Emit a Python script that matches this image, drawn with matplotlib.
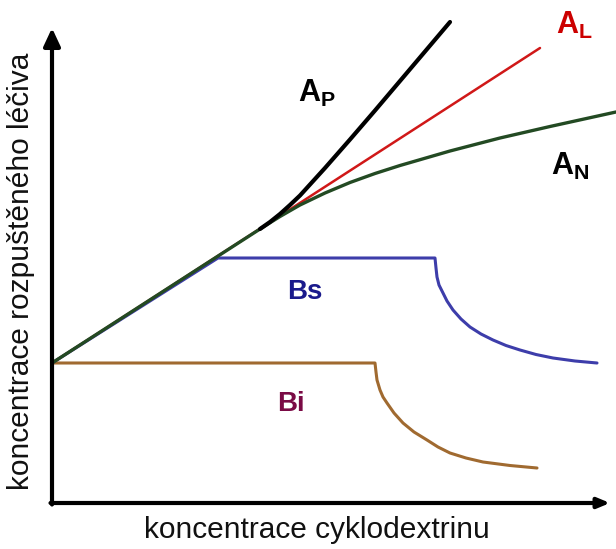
import matplotlib
matplotlib.use("Agg")
import matplotlib.pyplot as plt

plt.rcParams['font.family'] = ['Liberation Sans', 'DejaVu Sans']
plt.rcParams['mathtext.fontset'] = 'custom'
plt.rcParams['mathtext.rm'] = 'Liberation Sans:bold'
plt.rcParams['mathtext.bf'] = 'Liberation Sans:bold'
plt.rcParams['mathtext.it'] = 'Liberation Sans:bold'

# ---- data (schematic phase-solubility diagram) ----
al_x = [0.0, 9.76]
al_y = [2.8, 9.1]

ap_x = [4.16, 4.36, 4.56, 4.76, 4.96, 5.46, 5.96, 6.46, 6.96, 7.46, 7.96]
ap_y = [5.48, 5.62, 5.78, 5.96, 6.15, 6.70, 7.27, 7.85, 8.44, 9.03, 9.62]

an_x = [0.0, 4.16, 4.56, 4.96, 5.46, 5.96, 6.46, 6.96, 7.96, 8.96, 9.96, 11.28]
an_y = [2.8, 5.48, 5.73, 5.96, 6.20, 6.41, 6.59, 6.75, 7.04, 7.30, 7.53, 7.82]

bs_x = [0.0, 3.32, 7.66, 7.68, 7.70, 7.74, 7.82, 7.90, 8.02, 8.18, 8.36, 8.58,
        8.82, 9.08, 9.36, 9.68, 10.02, 10.46, 10.90]
bs_y = [2.8, 4.90, 4.90, 4.70, 4.52, 4.36, 4.20, 4.04, 3.86, 3.68, 3.52, 3.38,
        3.26, 3.15, 3.06, 2.97, 2.90, 2.84, 2.80]

bi_x = [0.0, 6.46, 6.48, 6.50, 6.56, 6.62, 6.70, 6.84, 7.02, 7.24, 7.50, 7.72,
        7.96, 8.28, 8.62, 9.16, 9.70]
bi_y = [2.8, 2.80, 2.62, 2.46, 2.26, 2.12, 2.00, 1.80, 1.60, 1.42, 1.26, 1.12,
        1.00, 0.90, 0.82, 0.75, 0.70]

xlabel = "koncentrace cyklodextrinu"
ylabel = "koncentrace rozpuštěného léčiva"

fig = plt.figure(figsize=(6.16, 5.49), dpi=100)
ax = fig.add_axes([0, 0, 1, 1])
ax.set_xlim(-1.04, 11.28)
ax.set_ylim(-0.92, 10.06)
ax.axis('off')

ax.plot(bi_x, bi_y, color='#a06a30', lw=2.2, solid_capstyle='round', solid_joinstyle='round')
ax.plot(bs_x, bs_y, color='#3d3daa', lw=2.2, solid_capstyle='round', solid_joinstyle='round')
ax.plot(al_x, al_y, color='#d01818', lw=1.8, solid_capstyle='round')
ax.plot(an_x, an_y, color='#234a23', lw=2.4, solid_capstyle='round', solid_joinstyle='round')
ax.plot(ap_x, ap_y, color='black', lw=3.0, solid_capstyle='round', solid_joinstyle='round')

# axes with arrows
ax.annotate('', xy=(0, 9.5), xytext=(0, -0.03),
            arrowprops=dict(arrowstyle='-|>,head_length=0.9,head_width=0.42',
                            lw=3.0, color='black', shrinkA=0, shrinkB=0,
                            mutation_scale=12))
ax.annotate('', xy=(11.16, 0), xytext=(-0.03, 0),
            arrowprops=dict(arrowstyle='-|>,head_length=0.6,head_width=0.25',
                            lw=3.0, color='black', shrinkA=0, shrinkB=0,
                            mutation_scale=12))

ax.text(5.3, -0.54, xlabel, fontsize=21.5, ha='center', va='center', color='#111111')
ax.text(-0.62, 4.64, ylabel, fontsize=21.5, ha='center', va='center',
        rotation=90, color='#111111')

ax.text(4.92, 8.2, r'$\mathbf{A_P}$', fontsize=22, ha='left', va='center', color='black')
ax.text(10.08, 9.55, r'$\mathbf{A_L}$', fontsize=22, ha='left', va='center', color='#cc0000')
ax.text(9.98, 6.73, r'$\mathbf{A_N}$', fontsize=22, ha='left', va='center', color='black')
ax.text(5.06, 4.22, 'Bs', fontsize=20, fontweight='bold', ha='center', va='center',
        color='#1a1a8c')
ax.text(4.78, 1.98, 'Bi', fontsize=20, fontweight='bold', ha='center', va='center',
        color='#7a0a45')

fig.savefig('out.png', dpi=100)
